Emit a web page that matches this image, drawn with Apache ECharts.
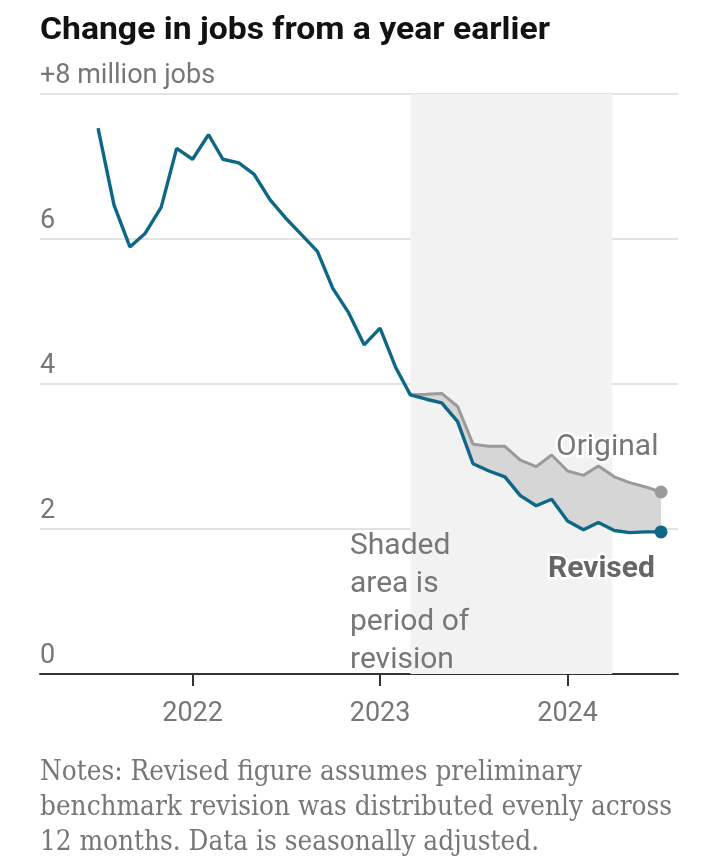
<!DOCTYPE html>
<html>
<head>
<meta charset="utf-8">
<script src="https://cdn.jsdelivr.net/npm/echarts@6/dist/echarts.min.js"></script>
<style>html,body{margin:0;padding:0;background:#fff}#c{width:720px;height:868px}</style>
</head>
<body>
<div id="c"></div>
<script>
var months = [
  '2021-07-01','2021-08-01','2021-09-01','2021-10-01','2021-11-01','2021-12-01',
  '2022-01-01','2022-02-01','2022-03-01','2022-04-01','2022-05-01','2022-06-01',
  '2022-07-01','2022-08-01','2022-09-01','2022-10-01','2022-11-01','2022-12-01',
  '2023-01-01','2023-02-01','2023-03-01','2023-04-01','2023-05-01','2023-06-01',
  '2023-07-01','2023-08-01','2023-09-01','2023-10-01','2023-11-01','2023-12-01',
  '2024-01-01','2024-02-01','2024-03-01','2024-04-01','2024-05-01','2024-06-01',
  '2024-07-01'
];
var revised = [
  7.53, 6.47, 5.89, 6.08, 6.44, 7.25,
  7.10, 7.44, 7.10, 7.05, 6.89, 6.54,
  6.29, 6.06, 5.83, 5.32, 4.98, 4.54,
  4.77, 4.22, 3.85, 3.79, 3.74, 3.48,
  2.90, 2.80, 2.72, 2.46, 2.32, 2.41,
  2.11, 1.99, 2.09, 1.98, 1.95, 1.96,
  1.96
];
// Original estimates, from March 2023 onward
var originalMonths = months.slice(20);
var original = [
  3.85, 3.86, 3.87, 3.69,
  3.17, 3.14, 3.14, 2.95, 2.86, 3.02,
  2.80, 2.74, 2.87, 2.72, 2.64, 2.58,
  2.51
];
var yearTicks = ['2022-01-01', '2023-01-01', '2024-01-01'];
var revisionPeriod = ['2023-03-01', '2024-03-28'];
var xRange = ['2021-03-10', '2024-08-03'];
var titleText = 'Change in jobs from a year earlier';
var notes = ['Notes: Revised figure assumes preliminary',
  'benchmark revision was distributed evenly across',
  '12 months. Data is seasonally adjusted.'];

var BLUE = '#0d6785';
var sans = 'Roboto, "Liberation Sans", sans-serif';
var serif = '"DejaVu Serif", Georgia, serif';

function ts(d) { return Date.parse(d + 'T00:00:00Z'); }
function pairs(xs, ys) { return ys.map(function (v, i) { return [ts(xs[i]), v]; }); }
var yearTs = yearTicks.map(ts);
var originalPts = pairs(originalMonths, original);
var revisedTailPts = pairs(originalMonths, revised.slice(20));

// width fitting helpers (typography only)
var mctx = document.createElement('canvas').getContext('2d');
function fitScale(text, font, target) {
  mctx.font = font;
  return target / mctx.measureText(text).width;
}
var titleFont = 'bold 32px Roboto, "Liberation Sans", sans-serif';
var titleScale = fitScale(titleText, titleFont, 510);
var notesFont = '27px ' + serif;
var notesScale = fitScale(notes[1], notesFont, 632);

var chart = echarts.init(document.getElementById('c'), null, {renderer: 'canvas'});
chart.setOption({
  animation: false,
  backgroundColor: '#fff',
  grid: {left: 40, right: 42, top: 94, bottom: 194, containLabel: false},
  xAxis: {
    type: 'value',
    min: ts(xRange[0]),
    max: ts(xRange[1]),
    axisLine: {show: true, onZero: false, lineStyle: {color: '#333', width: 2}},
    axisTick: {show: true, customValues: yearTs, length: 12, lineStyle: {color: '#333', width: 2}},
    axisLabel: {
      customValues: yearTs,
      formatter: function (v) { return String(new Date(v).getUTCFullYear()); },
      color: '#777', fontSize: 27, fontFamily: sans, margin: 27
    },
    splitLine: {show: false}
  },
  yAxis: {
    type: 'value',
    min: 0, max: 8, interval: 2,
    axisLine: {show: false},
    axisTick: {show: false},
    splitLine: {show: true, lineStyle: {color: '#e2e2e2', width: 2}},
    axisLabel: {
      inside: true, margin: 0,
      verticalAlign: 'bottom',
      padding: [0, 0, 4, 0],
      lineHeight: 27,
      color: '#777', fontSize: 27, fontFamily: sans,
      formatter: function (v) { return v === 8 ? '+8 million jobs' : String(v); }
    }
  },
  series: [
    {
      type: 'line', name: 'shade', data: [], silent: true,
      markArea: {
        silent: true,
        itemStyle: {color: '#f2f2f2'},
        data: [[{xAxis: ts(revisionPeriod[0])}, {xAxis: ts(revisionPeriod[1])}]]
      },
      z: 1
    },
    {
      type: 'custom', name: 'gap', silent: true, z: 2,
      data: [originalPts[0]],
      renderItem: function (params, api) {
        var pts = [];
        originalPts.forEach(function (p) { pts.push(api.coord(p)); });
        revisedTailPts.slice().reverse().forEach(function (p) { pts.push(api.coord(p)); });
        return {type: 'polygon', shape: {points: pts}, style: {fill: '#d6d6d6'}};
      }
    },
    {
      type: 'line', name: 'Original', data: originalPts,
      lineStyle: {color: '#9a9a9a', width: 3}, itemStyle: {color: '#9a9a9a'},
      symbol: function (v, p) { return p.dataIndex === original.length - 1 ? 'circle' : 'none'; },
      symbolSize: 13, z: 3
    },
    {
      type: 'line', name: 'Revised', data: pairs(months, revised),
      lineStyle: {color: BLUE, width: 3.4}, itemStyle: {color: BLUE},
      symbol: function (v, p) { return p.dataIndex === revised.length - 1 ? 'circle' : 'none'; },
      symbolSize: 13, z: 4
    }
  ],
  graphic: [
    {type: 'text', x: 40, y: 31, scaleX: titleScale, z: 10,
      style: {text: titleText, fill: '#121212', font: titleFont, verticalAlign: 'middle'}},
    {type: 'text', x: 556, y: 447, z: 10,
      style: {text: 'Original', fill: '#777', fontSize: 30, fontFamily: sans,
        verticalAlign: 'middle', stroke: '#fff', lineWidth: 5}},
    {type: 'text', x: 548, y: 569, z: 10,
      style: {text: 'Revised', fill: '#666', fontSize: 30, fontWeight: 'bold', fontFamily: sans,
        verticalAlign: 'middle', stroke: '#fff', lineWidth: 5}},
    {type: 'text', x: 350, y: 527, z: 10,
      style: {text: 'Shaded\narea is\nperiod of\nrevision', fill: '#777', fontSize: 30,
        fontFamily: sans, lineHeight: 38}},
    {type: 'text', x: 40, y: 773, scaleX: notesScale, z: 10,
      style: {text: notes[0], fill: '#777', font: notesFont, verticalAlign: 'middle'}},
    {type: 'text', x: 40, y: 808, scaleX: notesScale, z: 10,
      style: {text: notes[1], fill: '#777', font: notesFont, verticalAlign: 'middle'}},
    {type: 'text', x: 40, y: 843, scaleX: notesScale, z: 10,
      style: {text: notes[2], fill: '#777', font: notesFont, verticalAlign: 'middle'}}
  ]
});
</script>
</body>
</html>
